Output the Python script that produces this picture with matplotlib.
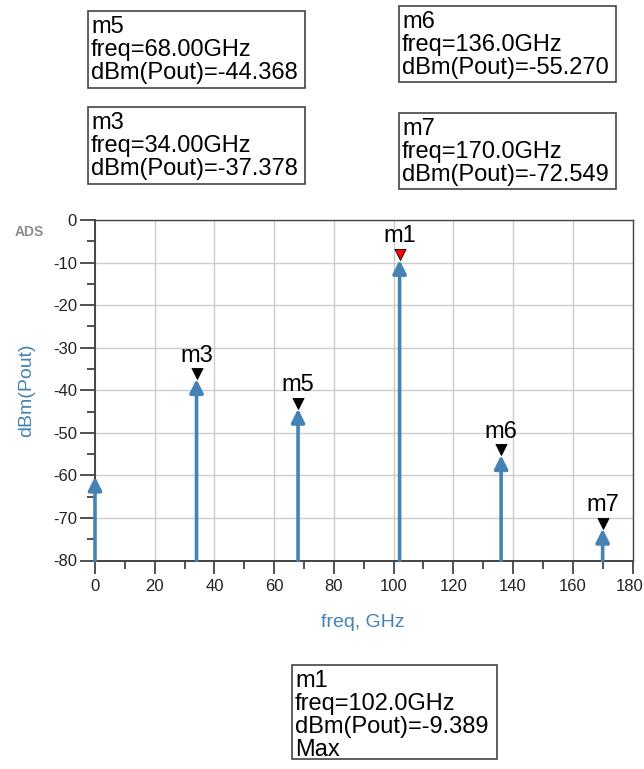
import matplotlib
matplotlib.use("Agg")
import matplotlib.pyplot as plt
import matplotlib.transforms as mtransforms
from matplotlib.patches import Rectangle
from matplotlib.path import Path
import numpy as np

plt.rcParams['font.family'] = ['Liberation Sans', 'DejaVu Sans']
plt.rcParams['axes.unicode_minus'] = False

# ---- data ----
freqs = [0, 34, 68, 102, 136, 170]            # GHz
pout = [-60.3, -37.378, -44.368, -9.389, -55.270, -72.549]  # dBm
marker_names = ["m3", "m5", "m1", "m6", "m7"]
marker_freqs = [34, 68, 102, 136, 170]
marker_vals = [-37.378, -44.368, -9.389, -55.270, -72.549]
marker_colors = ["black", "black", "red", "black", "black"]
box_lines = {
    "m5": ["m5", "freq=68.00GHz", "dBm(Pout)=-44.368"],
    "m3": ["m3", "freq=34.00GHz", "dBm(Pout)=-37.378"],
    "m6": ["m6", "freq=136.0GHz", "dBm(Pout)=-55.270"],
    "m7": ["m7", "freq=170.0GHz", "dBm(Pout)=-72.549"],
    "m1": ["m1", "freq=102.0GHz", "dBm(Pout)=-9.389", "Max"],
}
x_ticks = list(range(0, 181, 20))
y_ticks = list(range(-80, 1, 10))

W, H = 644, 769
fig = plt.figure(figsize=(W / 100, H / 100), dpi=100)

def fx(px):
    return px / W

def fy(py):
    return 1 - py / H

ax_l, ax_r, ax_t, ax_b = 95, 632.5, 220, 560.5
ax = fig.add_axes([fx(ax_l), fy(ax_b), (ax_r - ax_l) / W, (ax_b - ax_t) / H])
ax.set_xlim(0, 180)
ax.set_ylim(-80, 0)
ax.set_xticks(x_ticks)
ax.set_yticks(y_ticks)
ax.set_xticks(list(range(10, 180, 20)), minor=True)
ax.set_yticks(list(np.arange(-75, 0, 10)), minor=True)
ax.grid(True, which='major', color='#cccccc', lw=1.0)
ax.set_axisbelow(True)
for s in ax.spines.values():
    s.set_color('#444444')
    s.set_linewidth(1.0)
ax.spines['left'].set_linewidth(1.4)
ax.spines['bottom'].set_linewidth(1.4)
ax.tick_params(axis='y', which='major', length=11, width=1.2, color='#333333',
               labelsize=12, labelcolor='#222222', pad=2)
ax.tick_params(axis='y', which='minor', length=6, width=1.2, color='#333333')
ax.tick_params(axis='x', which='major', length=9, width=1.2, color='#333333',
               labelsize=12, labelcolor='#222222', pad=4)
ax.tick_params(axis='x', which='minor', length=6, width=1.2, color='#333333')

# nudge the last x tick label so it stays inside the figure
last = ax.get_xticklabels()[-1]
last.set_transform(last.get_transform() +
                   mtransforms.ScaledTranslation(-3 / 100, 0, fig.dpi_scale_trans))

stem_color = '#4682b4'
for f, v in zip(freqs, pout):
    ax.annotate('', xy=(f, v), xytext=(f, -80),
                arrowprops=dict(arrowstyle='-|>,head_length=0.8,head_width=0.4',
                                color=stem_color, lw=2.6, shrinkA=0, shrinkB=0),
                annotation_clip=False)

down_tri = Path([(0, 0), (-0.5, 1), (0.5, 1), (0, 0)],
                [Path.MOVETO, Path.LINETO, Path.LINETO, Path.CLOSEPOLY])
for name, f, v, c in zip(marker_names, marker_freqs, marker_vals, marker_colors):
    ax.plot([f], [v], marker=down_tri, markersize=16, color=c,
            markeredgecolor='black', markeredgewidth=0.6, zorder=5, clip_on=False)
    ax.annotate(name, xy=(f, v), xytext=(0, 9), textcoords='offset points',
                ha='center', va='bottom', fontsize=17, color='black')

fig.text(fx(363), fy(627), 'freq, GHz', ha='center', va='baseline',
         fontsize=14, color=stem_color)
fig.text(fx(27), fy(390), 'dBm(Pout)', ha='center', va='center', rotation=90,
         fontsize=14, color=stem_color)
fig.text(fx(29), fy(232), 'ADS', ha='center', va='center', fontsize=10,
         color='#8c8c8c', fontweight='bold')

# marker readout boxes (pixel layout)
boxes = {
    "m5": (88, 11, 305, 88),
    "m3": (88, 107, 305, 184),
    "m6": (399, 6, 616, 82),
    "m7": (399, 113, 616, 189),
    "m1": (292, 665, 497, 759),
}
for key, (x0, y0, x1, y1) in boxes.items():
    fig.patches.append(Rectangle((fx(x0), fy(y1)), (x1 - x0) / W, (y1 - y0) / H,
                                 transform=fig.transFigure, fill=False,
                                 edgecolor='#444444', lw=1.2))
    for i, line in enumerate(box_lines[key]):
        fig.text(fx(x0 + 3), fy(y0 + 22 + i * 23), line, ha='left', va='baseline',
                 fontsize=17, color='black')

fig.savefig('out.png', dpi=100)
